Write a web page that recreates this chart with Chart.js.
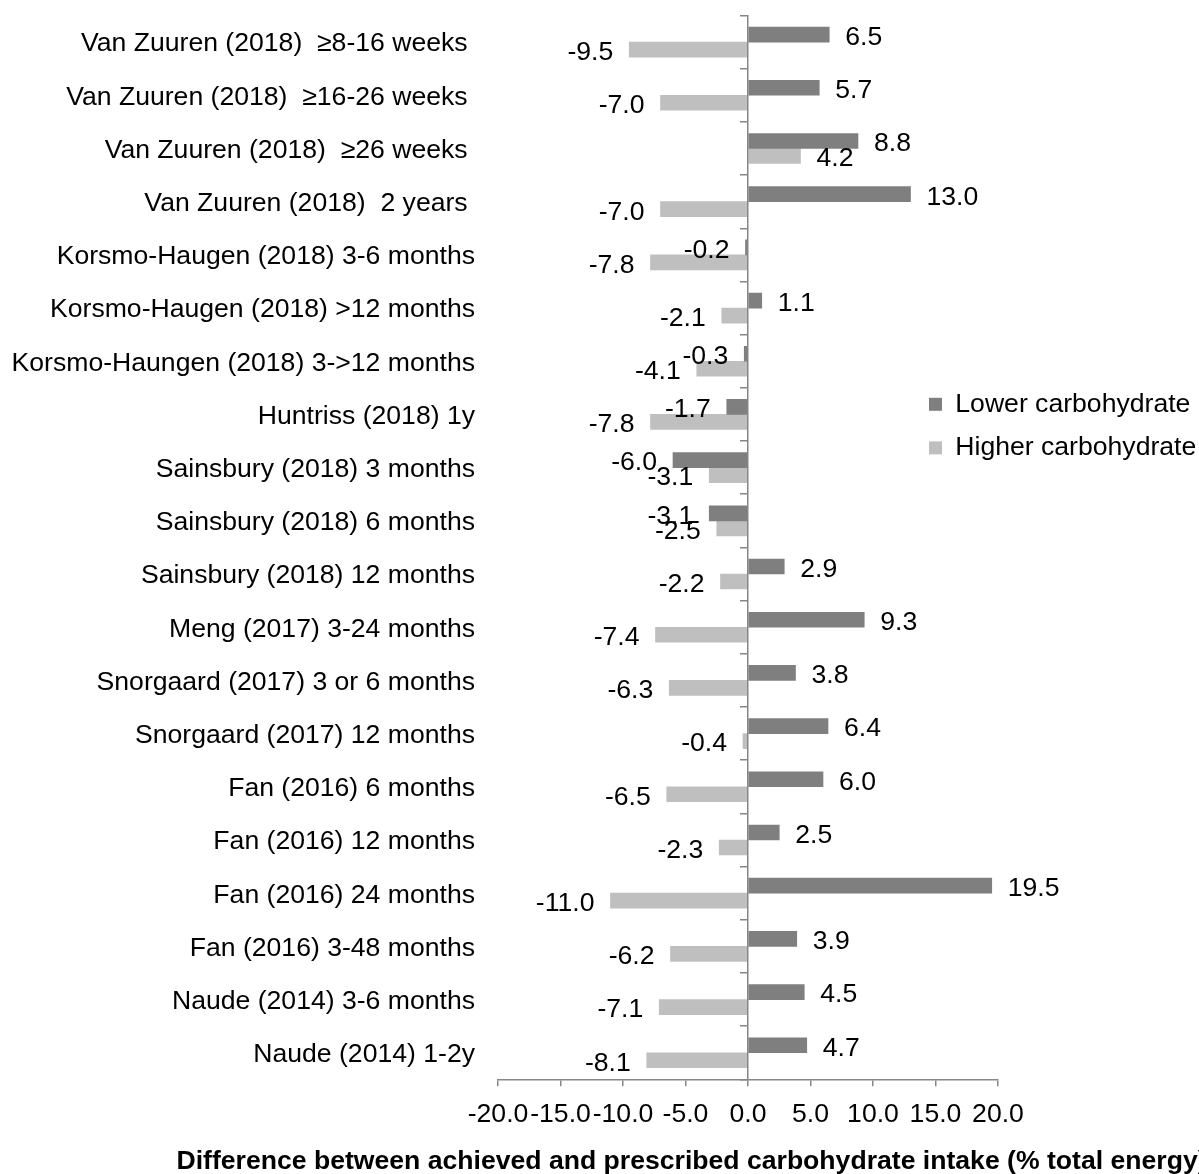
<!DOCTYPE html>
<html>
<head>
<meta charset="utf-8">
<script src="https://cdn.jsdelivr.net/npm/chart.js@4.4.1/dist/chart.umd.min.js"></script>
<style>
  html, body { margin: 0; padding: 0; background: #fff; overflow: hidden; }
  #wrap { width: 1199px; height: 1174px; overflow: hidden; }
</style>
</head>
<body>
<div id="wrap"><canvas id="carbChart" width="1383" height="1174"></canvas></div>
<script>
const studies = [
    'Van Zuuren (2018)  \u22658-16 weeks ',
    'Van Zuuren (2018)  \u226516-26 weeks ',
    'Van Zuuren (2018)  \u226526 weeks ',
    'Van Zuuren (2018)  2 years ',
    'Korsmo-Haugen (2018) 3-6 months',
    'Korsmo-Haugen (2018) >12 months',
    'Korsmo-Haungen (2018) 3->12 months',
    'Huntriss (2018) 1y',
    'Sainsbury (2018) 3 months',
    'Sainsbury (2018) 6 months',
    'Sainsbury (2018) 12 months',
    'Meng (2017) 3-24 months',
    'Snorgaard (2017) 3 or 6 months',
    'Snorgaard (2017) 12 months',
    'Fan (2016) 6 months',
    'Fan (2016) 12 months',
    'Fan (2016) 24 months',
    'Fan (2016) 3-48 months',
    'Naude (2014) 3-6 months',
    'Naude (2014) 1-2y'
];
const lowerCarb = [6.5, 5.7, 8.8, 13.0, -0.2, 1.1, -0.3, -1.7, -6.0, -3.1, 2.9, 9.3, 3.8, 6.4, 6.0, 2.5, 19.5, 3.9, 4.5, 4.7];
const higherCarb = [-9.5, -7.0, 4.2, -7.0, -7.8, -2.1, -4.1, -7.8, -3.1, -2.5, -2.2, -7.4, -6.3, -0.4, -6.5, -2.3, -11.0, -6.2, -7.1, -8.1];
const seriesNames = ['Lower carbohydrate', 'Higher carbohydrate'];
const xMin = -20;
const xMax = 20;
const xStep = 5;

const axisGrey = '#868686';
const FONT = "'Liberation Sans', Arial, sans-serif";
const FONT_SIZE = 26.6;

Chart.defaults.font.family = FONT;
Chart.defaults.font.size = FONT_SIZE;
Chart.defaults.color = '#000';

// value labels at the end of every bar
const barValueLabels = {
    id: 'barValueLabels',
    afterDatasetsDraw(chart) {
        const ctx = chart.ctx;
        ctx.save();
        ctx.font = FONT_SIZE + 'px ' + FONT;
        ctx.fillStyle = '#000';
        ctx.textBaseline = 'middle';
        chart.data.datasets.forEach((ds, i) => {
            chart.getDatasetMeta(i).data.forEach((bar, j) => {
                const v = ds.data[j];
                ctx.textAlign = v >= 0 ? 'left' : 'right';
                ctx.fillText(v.toFixed(1), bar.x + (v >= 0 ? 16 : -16), bar.y + 3);
            });
        });
        ctx.restore();
    }
};

// legend sits inside the plot, to the right of the zero line
const legendSpot = {
    id: 'legendSpot',
    afterLayout(chart) {
        const lg = chart.legend;
        lg.left = 912;
        lg.top = 374;
        lg.width = 330;
        lg.height = 120;
        lg.right = lg.left + lg.width;
        lg.bottom = lg.top + lg.height;
    }
};

const ctx = document.getElementById('carbChart').getContext('2d');
const carbChart = new Chart(ctx, {
    type: 'bar',
    data: {
        labels: studies,
        datasets: [{
            label: seriesNames[0],
            data: lowerCarb,
            backgroundColor: '#7f7f7f',
            borderWidth: 0,
            barThickness: 15
        }, {
            label: seriesNames[1],
            data: higherCarb,
            backgroundColor: '#bfbfbf',
            borderWidth: 0,
            barThickness: 15
        }]
    },
    options: {
        indexAxis: 'y',
        responsive: false,
        animation: false,
        layout: {
            padding: { left: 0, top: 15.5, right: 0, bottom: 0 }
        },
        scales: {
            x: {
                type: 'linear',
                min: xMin,
                max: xMax,
                ticks: {
                    stepSize: xStep,
                    autoSkip: false,
                    maxRotation: 0,
                    minRotation: 0,
                    padding: 12,
                    color: '#000',
                    callback: (v) => v.toFixed(1)
                },
                grid: {
                    drawOnChartArea: false,
                    drawTicks: true,
                    tickLength: 7,
                    color: axisGrey,
                    lineWidth: 1.5
                },
                border: { color: axisGrey, width: 1.5 }
            },
            y: {
                type: 'category',
                position: 'left',
                offset: true,
                grid: { display: false, drawTicks: true, tickLength: 23, offset: true },
                border: { display: false },
                ticks: { padding: 0, labelOffset: 2, color: '#000', autoSkip: false, font: { lineHeight: 1 } },
                afterFit(scale) {
                    scale.width = 498;
                }
            },
            zeroLine: {
                type: 'category',
                axis: 'y',
                position: { x: 0 },
                offset: true,
                min: 0,
                max: studies.length - 1,
                ticks: { display: false },
                grid: {
                    offset: true,
                    drawOnChartArea: false,
                    drawTicks: true,
                    tickLength: 7,
                    color: axisGrey,
                    lineWidth: 1.5
                },
                border: { color: axisGrey, width: 1.5, z: 1 }
            },
            // empty band on the right so the plot ends at +20
            rightSpace: {
                type: 'category',
                axis: 'y',
                position: 'right',
                ticks: { display: false },
                grid: { display: false, drawTicks: false },
                border: { display: false },
                afterFit(scale) {
                    scale.width = 385;
                }
            }
        },
        plugins: {
            legend: {
                position: 'chartArea',
                align: 'start',
                labels: {
                    boxWidth: 13,
                    boxHeight: 13,
                    padding: 17,
                    color: '#000',
                    font: { size: FONT_SIZE }
                }
            },
            title: {
                display: true,
                position: 'bottom',
                align: 'center',
                fullSize: true,
                text: 'Difference between achieved and prescribed carbohydrate intake (% total energy)',
                color: '#000',
                font: { size: FONT_SIZE, weight: 'bold', lineHeight: 0.9 },
                padding: { top: 7.8, bottom: 0 }
            },
            tooltip: { enabled: false }
        }
    },
    plugins: [barValueLabels, legendSpot]
});
</script>
</body>
</html>
